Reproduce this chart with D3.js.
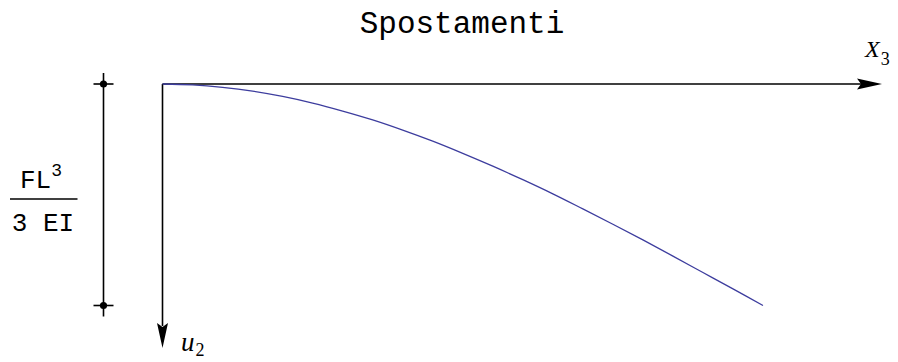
<!DOCTYPE html>
<html>
<head>
<meta charset="utf-8">
<script src="https://cdn.jsdelivr.net/npm/d3@7"></script>
<style>
  html, body { margin: 0; padding: 0; background: #fff; }
  svg { display: block; }
</style>
</head>
<body>
<svg id="chart" width="898" height="362"></svg>
<script>
// Beam positions along X3, as a fraction of the length L
const positions = [0, 0.05, 0.1, 0.15, 0.2, 0.25, 0.3, 0.35, 0.4, 0.45, 0.5,
                   0.55, 0.6, 0.65, 0.7, 0.75, 0.8, 0.85, 0.9, 0.95, 1.0];
// Displacement u2, as a fraction of the tip value F L^3 / (3 E I)
const displacements = [0, 0.004, 0.015, 0.032, 0.056, 0.086, 0.122, 0.162, 0.208, 0.258, 0.313,
                       0.371, 0.432, 0.496, 0.564, 0.633, 0.704, 0.777, 0.851, 0.925, 1.0];
// Reference bar end values (0 and the tip displacement)
const barValues = [0, 1];

const titleText = "Spostamenti";
const xAxisLabel = "X";
const xAxisSub = "3";
const yAxisLabel = "u";
const yAxisSub = "2";

const svg = d3.select("#chart");

const x = d3.scaleLinear().domain([0, 1]).range([162.5, 763]);
const y = d3.scaleLinear().domain([0, 1]).range([84, 305.5]);

const mono = "'Liberation Mono', 'Courier New', monospace";
const serif = "'Liberation Serif', 'Times New Roman', serif";

// Title
svg.append("text")
  .attr("x", 462).attr("y", 33)
  .attr("text-anchor", "middle")
  .attr("font-family", mono)
  .attr("font-size", 31)
  .attr("fill", "#000")
  .text(titleText);

// Axes with arrowheads
const axisX0 = x(0), axisY0 = y(0);
const axes = svg.append("g").attr("stroke", "#000").attr("stroke-width", 1.6).attr("fill", "none");
axes.append("line").attr("x1", axisX0).attr("y1", axisY0).attr("x2", 862).attr("y2", axisY0);
axes.append("line").attr("x1", axisX0).attr("y1", axisY0).attr("x2", axisX0).attr("y2", 326);

// Arrowhead: tip at origin, pointing along +x
function arrowPath() {
  return "M0,0 L-25,-5.5 L-21,0 L-25,5.5 Z";
}
svg.append("path").attr("d", arrowPath())
  .attr("transform", `translate(882,${axisY0})`)
  .attr("fill", "#000");
svg.append("path").attr("d", arrowPath())
  .attr("transform", `translate(${axisX0},348) rotate(90)`)
  .attr("fill", "#000");

// Axis labels
const xl = svg.append("text")
  .attr("x", 865).attr("y", 57)
  .attr("font-family", serif).attr("font-size", 24).attr("fill", "#000");
xl.append("tspan").attr("font-style", "italic").text(xAxisLabel);
xl.append("tspan").attr("font-size", 18).attr("dy", 8).attr("dx", 1).text(xAxisSub);

const yl = svg.append("text")
  .attr("x", 181).attr("y", 351)
  .attr("font-family", serif).attr("font-size", 27).attr("fill", "#000");
yl.append("tspan").attr("font-style", "italic").text(yAxisLabel);
yl.append("tspan").attr("font-size", 18).attr("dy", 5).attr("dx", 1).text(yAxisSub);

// Deflection curve
const data = positions.map((p, i) => ({ p, u: displacements[i] }));
svg.append("path")
  .datum(data)
  .attr("fill", "none")
  .attr("stroke", "#3d3d9e")
  .attr("stroke-width", 1.3)
  .attr("d", d3.line().x(d => x(d.p)).y(d => y(d.u)).curve(d3.curveCatmullRom.alpha(0.5)));

// Reference bar for the tip displacement
const barX = 103.5;
const bar = svg.append("g").attr("stroke", "#000").attr("stroke-width", 1.6);
bar.append("line")
  .attr("x1", barX).attr("x2", barX)
  .attr("y1", y(barValues[0]) - 11).attr("y2", y(barValues[1]) + 11);
bar.selectAll("line.tick")
  .data(barValues)
  .join("line")
  .attr("class", "tick")
  .attr("x1", barX - 10).attr("x2", barX + 10)
  .attr("y1", d => y(d)).attr("y2", d => y(d));
svg.selectAll("circle.end")
  .data(barValues)
  .join("circle")
  .attr("class", "end")
  .attr("cx", barX).attr("cy", d => y(d)).attr("r", 3.6)
  .attr("fill", "#000");

// Fraction label F L^3 / (3 E I)
const num = svg.append("text")
  .attr("x", 41).attr("y", 188)
  .attr("text-anchor", "middle")
  .attr("font-family", mono).attr("font-size", 26).attr("fill", "#000");
num.append("tspan").text("FL");
num.append("tspan").attr("font-size", 18).attr("dy", -12).text("3");
svg.append("line")
  .attr("x1", 10).attr("x2", 77.5).attr("y1", 199).attr("y2", 199)
  .attr("stroke", "#000").attr("stroke-width", 1.3);
svg.append("text")
  .attr("x", 43).attr("y", 231)
  .attr("text-anchor", "middle")
  .attr("font-family", mono).attr("font-size", 26).attr("fill", "#000")
  .attr("xml:space", "preserve")
  .text("3 EI");
</script>
</body>
</html>
